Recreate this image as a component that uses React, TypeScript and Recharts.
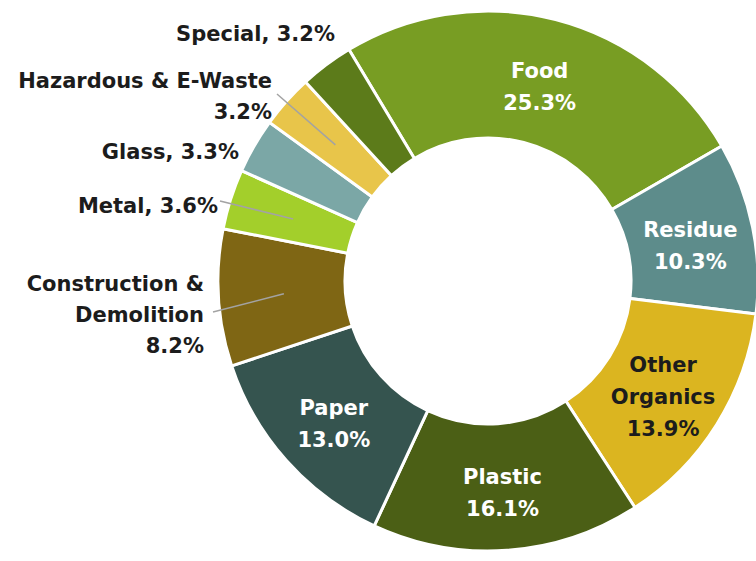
import React from 'react';
import { PieChart, Pie, Cell } from 'recharts';

// waste composition (% by weight)
const categories = [
  'Food', 'Residue', 'Other Organics', 'Plastic', 'Paper',
  'Construction & Demolition', 'Metal', 'Glass', 'Hazardous & E-Waste', 'Special'
];
const shares = [25.3, 10.3, 13.9, 16.1, 13.0, 8.2, 3.6, 3.3, 3.2, 3.2];
const colors = [
  '#789d23', '#5d8c8b', '#dbb520', '#4b5f15', '#35544f',
  '#7f6614', '#a3cf2b', '#7ba7a6', '#e8c54a', '#5c7b1a'
];

const data = categories.map((name, i) => ({ name, value: shares[i] }));

const FONT = '"DejaVu Sans", Lato, sans-serif';
const RAD = Math.PI / 180;

// slices labelled inside the ring
const insideLines: Record<string, string[]> = {
  'Food': ['Food'],
  'Residue': ['Residue'],
  'Other Organics': ['Other', 'Organics'],
  'Plastic': ['Plastic'],
  'Paper': ['Paper'],
};
const darkText: Record<string, boolean> = { 'Other Organics': true };

// small slices labelled on the left: text end point relative to centre, optional leader anchor
const outside: Record<string, { dx: number; dy: number; lines: (pct: string) => string[]; lead?: [number, number] }> = {
  'Special': { dx: -153, dy: -247, lines: (p) => [`Special, ${p}`] },
  'Hazardous & E-Waste': { dx: -216, dy: -200, lines: (p) => ['Hazardous & E-Waste', p], lead: [-211, -187] },
  'Glass': { dx: -249, dy: -129, lines: (p) => [`Glass, ${p}`] },
  'Metal': { dx: -270, dy: -75, lines: (p) => [`Metal, ${p}`], lead: [-268, -80] },
  'Construction & Demolition': { dx: -284, dy: 3, lines: (p) => ['Construction &', 'Demolition', p], lead: [-275, 31] },
};

const renderLabel = (props: any) => {
  const { cx, cy, midAngle, innerRadius, outerRadius, name, value } = props;
  const pct = `${Number(value).toFixed(1)}%`;
  const mid = (innerRadius + outerRadius) / 2;
  if (insideLines[name]) {
    const r = mid;
    const x = cx + r * Math.cos(-midAngle * RAD);
    const y = cy + r * Math.sin(-midAngle * RAD) + 6;
    const lines = [...insideLines[name], pct];
    const gap = 32;
    const y0 = y - ((lines.length - 1) * gap) / 2;
    return (
      <text
        x={x}
        y={y0}
        textAnchor="middle"
        dominantBaseline="central"
        fill={darkText[name] ? '#1c1c1c' : '#ffffff'}
        fontFamily={FONT}
        fontWeight={700}
        fontSize={21}
      >
        {lines.map((l, i) => (
          <tspan key={i} x={x} y={y0 + i * gap}>{l}</tspan>
        ))}
      </text>
    );
  }
  const o = outside[name];
  if (!o) return null;
  const lines = o.lines(pct);
  const tx = cx + o.dx;
  const ty = cy + o.dy;
  const px = cx + (mid - 2) * Math.cos(-midAngle * RAD);
  const py = cy + (mid - 2) * Math.sin(-midAngle * RAD);
  return (
    <g>
      {o.lead && (
        <line x1={cx + o.lead[0]} y1={cy + o.lead[1]} x2={px} y2={py} stroke="#a3a3a3" strokeWidth={1.5} />
      )}
      <text
        x={tx}
        y={ty}
        textAnchor="end"
        dominantBaseline="central"
        fill="#1c1c1c"
        fontFamily={FONT}
        fontWeight={700}
        fontSize={21}
      >
        {lines.map((l, i) => (
          <tspan key={i} x={tx} y={ty + i * 31}>{l}</tspan>
        ))}
      </text>
    </g>
  );
};

export default function App() {
  return (
    <div style={{ position: 'absolute', left: 0, top: 0, width: 756, height: 561, background: '#ffffff', overflow: 'hidden' }}>
      <PieChart width={756} height={561} margin={{ top: 0, right: 0, bottom: 0, left: 0 }}>
        <Pie
          data={data}
          dataKey="value"
          nameKey="name"
          cx={488}
          cy={281}
          innerRadius={143}
          outerRadius={270}
          startAngle={121}
          endAngle={-239}
          stroke="#ffffff"
          strokeWidth={3}
          label={renderLabel}
          labelLine={false}
          isAnimationActive={false}
        >
          {data.map((d, i) => (
            <Cell key={d.name} fill={colors[i]} />
          ))}
        </Pie>
      </PieChart>
    </div>
  );
}
